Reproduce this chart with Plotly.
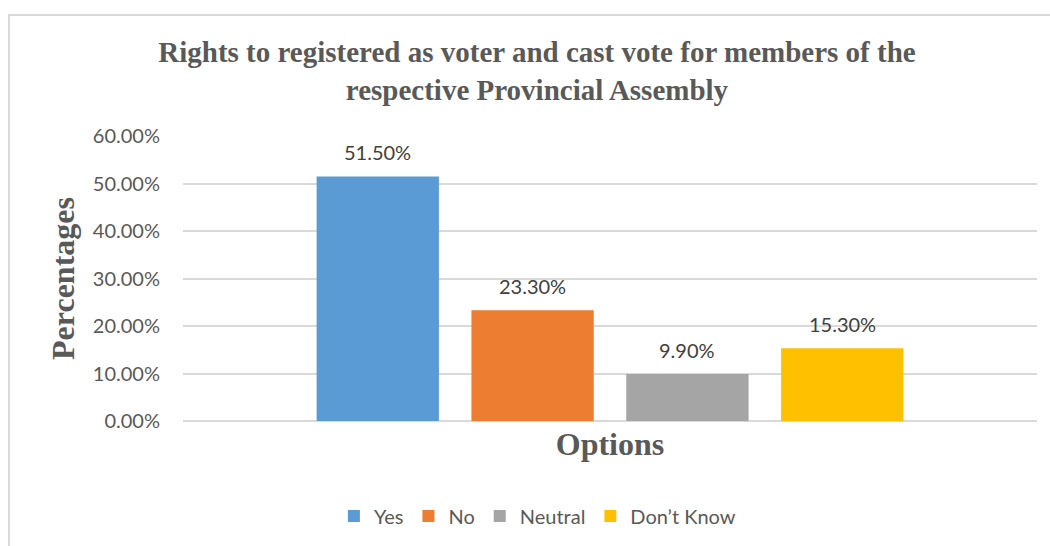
import plotly.graph_objects as go

# Survey responses (share of respondents)
options = ["Yes", "No", "Neutral", "Don\u2019t Know"]
shares = [0.515, 0.233, 0.099, 0.153]
colors = ["#5B9BD5", "#ED7D31", "#A5A5A5", "#FFC000"]
y_ticks = [0.0, 0.1, 0.2, 0.3, 0.4, 0.5, 0.6]

SANS = "Lato, 'Liberation Sans', sans-serif"
SERIF = "'Liberation Serif', 'Times New Roman', serif"
GREY_TEXT = "#595959"
GRID = "#D9D9D9"

fig = go.Figure()
for i, (name, val, col) in enumerate(zip(options, shares, colors)):
    fig.add_trace(go.Bar(
        name=name,
        x=[i],
        y=[val],
        width=0.79,
        marker=dict(color=col, line=dict(width=0)),
        hovertemplate="%{y:.2%}<extra>" + name + "</extra>",
    ))
    # value label above each bar
    fig.add_annotation(
        x=i, y=val, xref="x", yref="y",
        text=f"{val:.2%}", showarrow=False,
        yanchor="middle", yshift=24,
        font=dict(family=SANS, size=20, color="#404040"),
    )

# outer chart frame
fig.add_shape(
    type="rect", xref="paper", yref="paper",
    x0=-0.2037, x1=1.2, y0=-0.6, y1=1.4246,
    line=dict(color=GRID, width=2), layer="below",
)

fig.update_layout(
    width=1050, height=546,
    margin=dict(l=183, r=13, t=136, b=125, autoexpand=False),
    paper_bgcolor="white", plot_bgcolor="white",
    barmode="overlay",
    title=dict(
        text="Rights to registered as voter and cast vote for members of the<br>respective Provincial Assembly",
        x=0.5114, xanchor="center", y=0.886, yanchor="middle",
        font=dict(family=SERIF, size=29, color=GREY_TEXT, weight="bold"),
    ),
    xaxis=dict(
        range=[-1.258, 4.258], automargin=False,
        showticklabels=False, showgrid=False, zeroline=False,
        showline=False, ticks="",
        title=dict(text="Options", standoff=11,
                   font=dict(family=SERIF, size=32, color=GREY_TEXT, weight="bold")),
    ),
    yaxis=dict(
        range=[0, 0.6], tickvals=y_ticks, tickformat=".2%", automargin=False,
        showgrid=True, gridcolor=GRID, gridwidth=2,
        zeroline=True, zerolinecolor=GRID, zerolinewidth=2,
        showline=False, ticks="", ticklabelstandoff=22,
        tickfont=dict(family=SANS, size=20, color=GREY_TEXT),
        title=dict(text="Percentages", standoff=8,
                   font=dict(family=SERIF, size=32, color=GREY_TEXT, weight="bold")),
    ),
    legend=dict(
        orientation="h", x=0.415, xanchor="center", y=-0.333, yanchor="middle",
        font=dict(family=SANS, size=20, color=GREY_TEXT),
        itemwidth=30, traceorder="normal",
    ),
    showlegend=True,
)

fig.write_html("out.html")
